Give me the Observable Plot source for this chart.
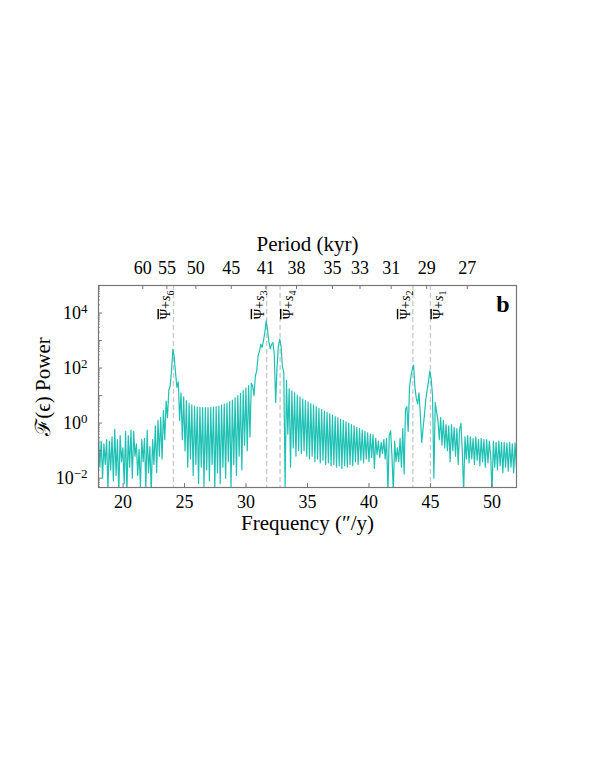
<!DOCTYPE html>
<html><head><meta charset="utf-8">
<script src="https://cdn.jsdelivr.net/npm/d3@7"></script>
<script src="https://cdn.jsdelivr.net/npm/@observablehq/plot@0.6"></script>
<style>html,body{margin:0;padding:0;background:#fff;}</style>
</head><body><div id="chart"></div>
<script>
// ---- spectrum samples (log10 of power) ----
const freqStart = 18;    // first frequency sample ("/y)
const freqStep = 0.11;   // sampling step ("/y)
const logPowerA = [-0.45,-1.6,-0.65,-2.0,-0.75,-1.5,-0.6,-2.4,-0.65,-1.7,-0.5,-2.1,-0.22,-1.9,-0.6,-2.5,-0.45,-1.4,-0.9,-2.2,-0.3,-2.5,-0.45,-1.6,-0.25,-2.0,-0.3,-1.2,-0.75,-1.9,-0.95,-2.3,-0.6,-1.4,-0.55,-2.4,-0.25,-1.8,-0.85,-2.5,-0.6];
const logPowerB = [-1.5,-0.1,-1.8,0.1,-1.2,0.2,-1.3,0.45,-0.6,0.8,0.2,1.2,1.35,1.9,2.68,2.4,1.8,1.3,1.5,0.1,1.1,-0.6];
const logPowerC = [0.95,-1.0,0.82,-1.6,0.72,-1.3,0.66,-1.9,0.62,-1.5,0.58,-2.2,0.57,-1.6,0.56,-2.3,0.56,-1.7,0.56,-2.1,0.57,-1.5,0.58,-2.4,0.6,-1.8,0.62,-2.2,0.65,-1.6,0.69,-2.0,0.73,-1.4,0.78,-2.3,0.84,-1.5,0.92,-1.9,1.0,-1.2,1.08,-1.7,1.18,-0.8,1.28,-1.0,1.36,-0.5];
const logPowerD = [1.45,1.35,1.0,1.72,1.9,2.45,2.6,2.87,2.75,3.0,3.3,3.72,3.4,2.95,2.7,2.85,2.93,2.5,0.75,2.0,2.8,3.05,2.8,2.05,1.85,-2.3,1.55,-0.4];
const logPowerE = [1.25,-1.6,1.17,-0.9,1.1,-1.2,1.02,-1.0,0.95,-1.1,0.88,-1.0,0.82,-1.2,0.77,-1.3,0.71,-1.2,0.66,-1.4,0.6,-1.3,0.54,-1.45,0.49,-1.35,0.44,-1.5,0.39,-1.45,0.34,-1.55,0.29,-1.5,0.24,-1.6,0.19,-1.55,0.14,-1.65,0.1,-1.55,0.05,-1.6,0.0,-1.5,-0.05,-1.55,-0.1,-1.4,-0.15,-1.5,-0.2,-1.35,-0.25,-1.45,-0.3,-1.3,-0.35,-1.4];
const logPowerF = [-0.4,-1.25,-0.42,-1.65,-0.55,-1.15,-0.65,-1.25,-0.7,-1.1,-0.6,-1.3,-0.55,-2.5,-0.45,-0.27,-1.2,-2.5,-0.65,-1.4,-0.9,-1.4,-0.55,-1.6,-0.2,-1.85,0.5,0.6,-0.3,1.3,1.7,1.95,2.1,1.3,0.9,0.7,1.1,0.3,-0.7,-0.2,0.3,0.85,1.2,1.5,1.9,1.6,1.0,-2.0,0.75,0.4,0.1,-0.6,0.2,-0.8,0.1,-0.9];
const logPowerG = [-0.05,-1.0,-0.1,-1.4,-0.05,-1.0,-0.15,-1.2,-0.2,-1.5,-0.25,0.0,-1.0,-2.5,-0.5,-1.3,-0.45,-1.45,-0.5,-1.3,-0.55,-1.5,-0.5,-1.35,-0.6,-1.55,-0.55,-1.4,-0.6,-1.6,-0.6,-1.45,-0.65,-1.2,-2.5,-0.65,-1.6,-0.7,-1.7,-0.65,-1.55,-0.7,-1.8,-0.7,-1.6,-0.72,-1.75,-0.7,-1.6,-0.75,-1.8,-0.72,-1.6];

// ---- axes / annotations ----
const freqTicks = [20, 25, 30, 35, 40, 45, 50];
const periodTicks = [60, 55, 50, 45, 41, 38, 35, 33, 31, 29, 27]; // kyr
const powerTicks = [1e-2, 1, 1e2, 1e4];
const lineFreqs = [24.1, 31.68, 32.77, 43.57, 45.0];
const lineLabels = ["s6", "s3", "s4", "s2", "s1"];
const lineSides = ["left", "left", "right", "left", "right"];

const logPower = [].concat(logPowerA, logPowerB, logPowerC, logPowerD, logPowerE, logPowerF, logPowerG);
const spectrum = logPower.map((v, i) => ({f: freqStart + i * freqStep, p: Math.pow(10, v)}));
const annotations = lineFreqs.map((f, i) => ({f, label: lineLabels[i], side: lineSides[i]}));
const periodFreqs = periodTicks.map(p => 1296 / p); // 1296000 "/cycle -> kyr
const minorY = [];
for (let e = -3; e <= 4; e++) for (let k = 2; k <= 9; k++) { const v = k * Math.pow(10, e); if (v > Math.pow(10, -2.34) && v < 1e5) minorY.push(v); }
const majorY = [1e-2, 1e-1, 1, 1e1, 1e2, 1e3, 1e4];

const FW = 418, FH = 202; // frame size in px (for inward tick lengths)
const font = "'Liberation Serif', 'DejaVu Serif', serif";
const chart = Plot.plot({
  width: 595, height: 770,
  marginTop: 285, marginBottom: 283, marginLeft: 98, marginRight: 79,
  style: {fontFamily: font, fontSize: "18px", color: "#000", background: "#fff", overflow: "visible"},
  x: {domain: [18, 52]},
  y: {type: "log", domain: [Math.pow(10, -2.34), 1e5]},
  marks: [
    Plot.ruleX(lineFreqs, {x: d => d, stroke: "#c8c8c8", strokeWidth: 1.3, strokeDasharray: "5,3"}),
    Plot.line(spectrum, {x: "f", y: "p", stroke: "#1ec1b3", strokeWidth: 1.2, clip: true}),
    Plot.tickX(freqTicks, {x: d => d, insetTop: FH - 4, stroke: "#777"}),
    Plot.tickX(periodFreqs, {x: d => d, insetBottom: FH - 4, stroke: "#777"}),
    Plot.tickY(majorY, {y: d => d, insetRight: FW - 4, stroke: "#777"}),
    Plot.tickY(minorY, {y: d => d, insetRight: FW - 2, stroke: "#888", strokeWidth: 0.8}),
    Plot.frame({stroke: "#777", strokeWidth: 1.2}),
    Plot.axisX(freqTicks, {anchor: "bottom", tickSize: 0, tickPadding: 8, fontSize: 18, label: null, tickFormat: d => String(d)}),
    Plot.axisX(periodFreqs, {anchor: "top", tickSize: 0, tickPadding: 12, fontSize: 18, label: null, tickFormat: d => String(Math.round(1296 / d))}),
    Plot.axisY(powerTicks, {anchor: "left", tickSize: 0, tickPadding: 11, fontSize: 18, label: null, tickFormat: d => "10^" + String(Math.round(Math.log10(d))).replace("-", "\u2212")}),
    Plot.text(annotations.filter(a => a.side === "left"), {x: "f", text: "label", frameAnchor: "top", rotate: -90, textAnchor: "end", lineAnchor: "bottom", dx: -3, dy: 5, fontSize: 14}),
    Plot.text(annotations.filter(a => a.side === "right"), {x: "f", text: "label", frameAnchor: "top", rotate: -90, textAnchor: "end", lineAnchor: "top", dx: 3, dy: 5, fontSize: 14}),
    Plot.text(["Period (kyr)"], {frameAnchor: "top", dy: -35, lineAnchor: "bottom", textAnchor: "middle", fontSize: 21}),
    Plot.text(["Frequency (\u2033/y)"], {frameAnchor: "bottom", dy: 28, lineAnchor: "top", textAnchor: "middle", fontSize: 21}),
    Plot.text(["\u2131(\u03f5) Power"], {frameAnchor: "left", dx: -55, rotate: -90, textAnchor: "middle", fontSize: 21}),
    Plot.text(["b"], {frameAnchor: "top-right", dx: -7, dy: 26, textAnchor: "end", lineAnchor: "bottom", fontSize: 24, fontWeight: "bold"})
  ]
});
const ns = "http://www.w3.org/2000/svg";
chart.querySelectorAll("text").forEach(t => {
  const s = t.textContent;
  let m;
  if ((m = s.match(/^10\^(.+)$/))) {
    t.textContent = "";
    const a = document.createElementNS(ns, "tspan"); a.textContent = "10";
    const b = document.createElementNS(ns, "tspan"); b.textContent = m[1];
    b.setAttribute("dy", "-0.45em"); b.style.fontSize = "72%";
    t.append(a, b);
  } else if ((m = s.match(/^s(\d)$/))) {
    t.textContent = "";
    const a = document.createElementNS(ns, "tspan"); a.textContent = "\u03a8"; a.style.textDecoration = "overline";
    const b = document.createElementNS(ns, "tspan"); b.textContent = "+";
    const c = document.createElementNS(ns, "tspan"); c.textContent = "s"; c.style.fontStyle = "italic";
    const d = document.createElementNS(ns, "tspan"); d.textContent = m[1]; d.setAttribute("dy", "0.3em"); d.style.fontSize = "72%";
    t.append(a, b, c, d);
  }
});
document.getElementById("chart").append(chart);
</script>
</body></html>
